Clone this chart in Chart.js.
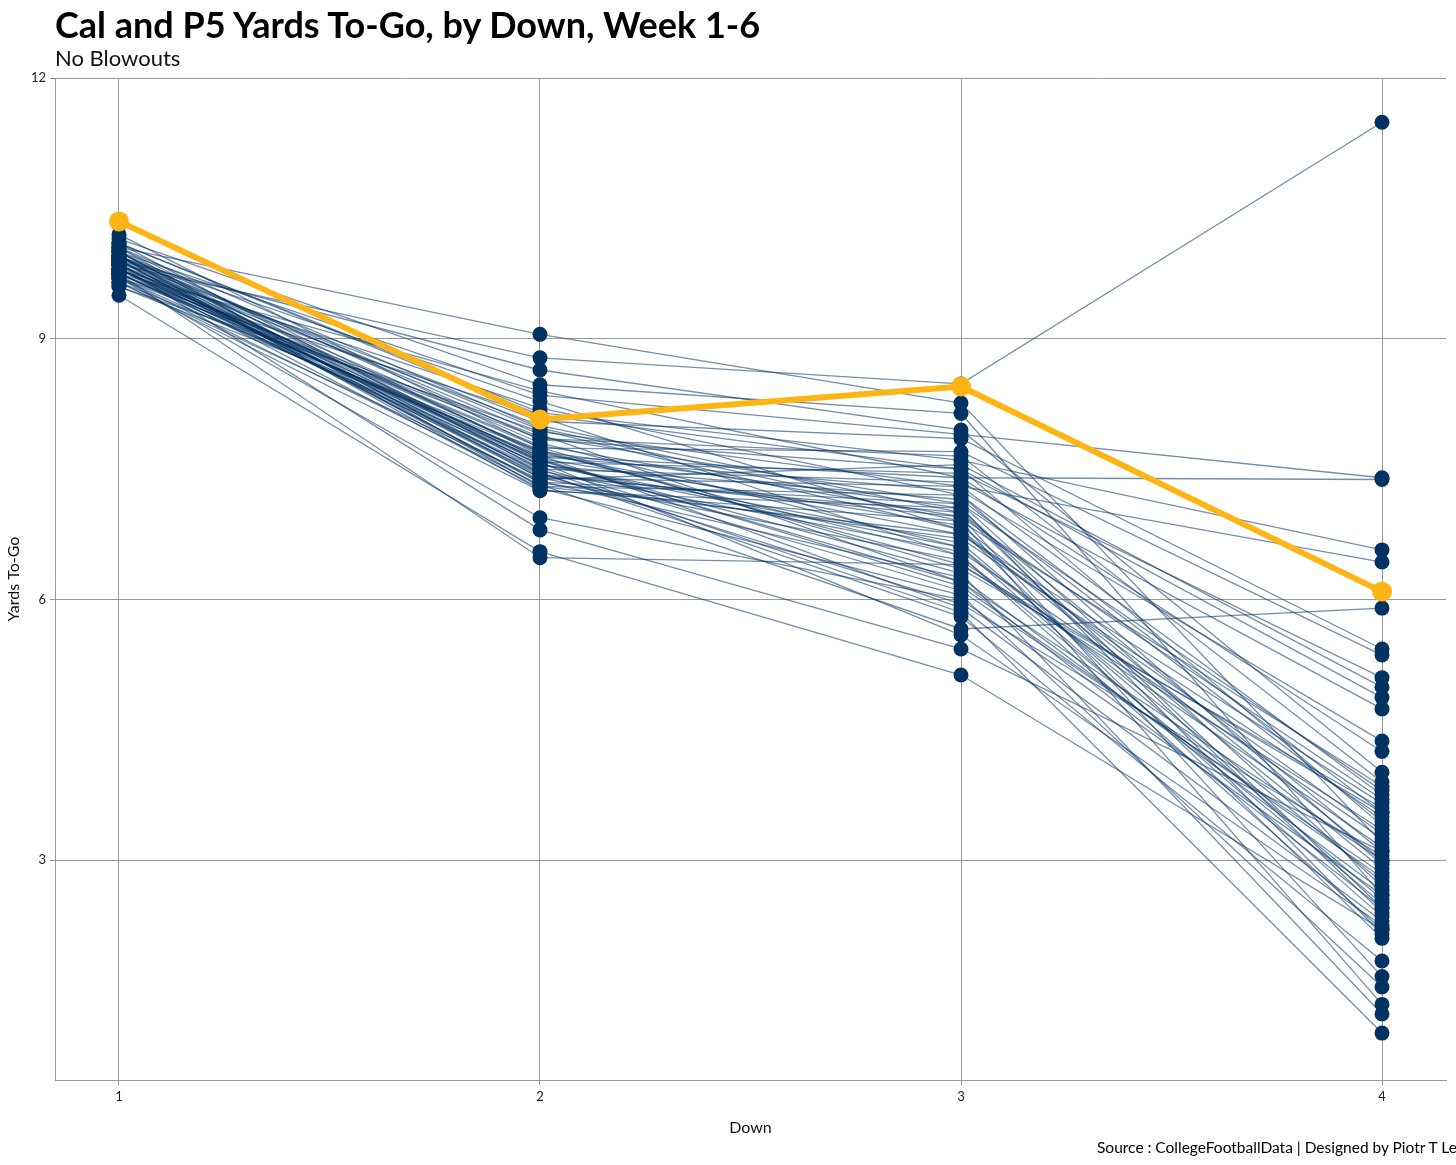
<!DOCTYPE html>
<html>
<head>
<meta charset="utf-8">
<script src="https://cdn.jsdelivr.net/npm/chart.js@4.4.0/dist/chart.umd.min.js"></script>
<style>
    html, body { margin: 0; padding: 0; background: #fff; overflow: hidden; }
    #wrap { position: relative; width: 1456px; height: 1165px; font-family: Lato, sans-serif; overflow: hidden; }
    #chart { position: absolute; left: 0; top: 0; }
    .title { position: absolute; left: 55px; top: 2px; font-size: 36px; font-weight: bold; color: #000; white-space: nowrap; }
    .subtitle { position: absolute; left: 55px; top: 44px; font-size: 22px; color: #111; white-space: nowrap; }
    .caption { position: absolute; left: 1097px; top: 1138px; font-size: 15.5px; color: #000; white-space: nowrap; }
</style>
</head>
<body>
<div id="wrap">
    <canvas id="chart" width="1456" height="1165"></canvas>
    <div class="title">Cal and P5 Yards To-Go, by Down, Week 1-6</div>
    <div class="subtitle">No Blowouts</div>
    <div class="caption">Source : CollegeFootballData | Designed by Piotr T Le</div>
</div>
<script>
// average yards to go on each down, one entry per P5 team
var downs = [1, 2, 3, 4];
var yTicks = [3, 6, 9, 12];

var down1Yards = [
    10.05, 9.85, 9.90, 10.15, 9.75, 10.00, 9.95, 9.80, 10.10, 9.70,
    9.90, 9.85, 10.05, 9.60, 9.95, 9.75, 10.00, 9.90, 9.80, 10.20,
    9.65, 9.85, 9.95, 10.05, 9.75, 9.90, 9.80, 10.00, 9.70, 9.95,
    9.85, 10.10, 9.75, 9.90, 9.80, 9.95, 10.00, 9.65, 9.85, 9.90,
    9.70, 10.05, 9.80, 9.95, 9.75, 9.85, 10.00, 9.90, 9.80, 9.70,
    9.95, 10.10, 9.85, 9.75, 9.90, 9.60, 9.80, 9.95, 9.70, 9.85,
    9.50, 9.75, 9.65, 9.80
];
var down2Yards = [
    9.05, 8.78, 8.64, 8.47, 8.40, 8.35, 8.28, 8.20, 8.15, 8.10,
    8.05, 8.00, 7.97, 7.93, 7.90, 7.87, 7.84, 7.80, 7.77, 7.74,
    7.72, 7.70, 7.68, 7.66, 7.64, 7.62, 7.60, 7.58, 7.56, 7.54,
    7.52, 7.50, 7.48, 7.46, 7.44, 7.42, 7.40, 7.38, 7.36, 7.34,
    7.32, 7.30, 7.28, 7.26, 7.65, 7.55, 7.45, 7.35, 7.75, 7.85,
    7.95, 8.12, 7.62, 7.50, 7.40, 7.70, 7.58, 7.30, 6.94, 6.80,
    6.55, 6.48, 7.25, 7.60
];
var down3Yards = [
    8.26, 8.48, 7.95, 8.14, 7.40, 7.90, 6.80, 7.20, 7.60, 6.50,
    7.85, 7.00, 6.90, 7.30, 6.20, 7.10, 7.50, 6.60, 6.95, 7.70,
    6.40, 7.05, 6.75, 5.90, 7.25, 6.85, 6.30, 7.45, 6.65, 7.15,
    6.10, 7.35, 6.55, 5.80, 6.95, 7.00, 6.45, 7.55, 6.25, 6.70,
    5.66, 7.20, 6.05, 6.90, 7.40, 6.60, 5.95, 7.10, 6.35, 7.65,
    6.80, 7.50, 6.15, 5.85, 7.30, 6.50, 5.59, 6.75, 6.00, 5.43,
    5.13, 6.40, 7.05, 6.20
];
var down4Yards = [
    3.20, 11.49, 4.01, 2.60, 7.38, 7.40, 2.90, 3.55, 6.57, 2.20,
    5.43, 3.10, 1.34, 6.43, 2.45, 3.80, 4.87, 2.75, 1.66, 5.36,
    3.35, 2.15, 3.65, 2.30, 4.37, 3.00, 1.23, 5.10, 2.55, 3.45,
    2.85, 4.74, 3.25, 1.84, 3.70, 2.40, 3.15, 4.99, 2.65, 3.50,
    5.90, 2.95, 1.54, 3.85, 4.25, 2.35, 3.05, 2.70, 3.60, 3.90,
    2.10, 3.40, 2.80, 1.01, 3.75, 2.50, 2.25, 3.30, 2.60, 3.10,
    2.20, 3.55, 2.45, 3.00
];
var calYards = [10.35, 8.07, 8.45, 6.09];

var navy = '#003262';
var gold = '#FDB515';
var gridGrey = '#9a9a9a';

var datasets = [];
var allPoints = [];
for (var i = 0; i < down1Yards.length; i++) {
    var row = [down1Yards[i], down2Yards[i], down3Yards[i], down4Yards[i]];
    var pts = [];
    downs.forEach(function(d, k) {
        pts.push({x: d, y: row[k]});
        allPoints.push({x: d, y: row[k]});
    });
    datasets.push({
        data: pts,
        borderColor: 'rgba(0,50,98,0.55)',
        borderWidth: 1.3,
        pointRadius: 0,
        fill: false,
        order: 3
    });
}
// all the team dots go above every team line
datasets.push({
    data: allPoints,
    showLine: false,
    pointRadius: 7.5,
    pointBackgroundColor: navy,
    pointBorderColor: navy,
    pointBorderWidth: 0,
    order: 2
});
datasets.push({
    data: downs.map(function(d, k) { return {x: d, y: calYards[k]}; }),
    borderColor: gold,
    borderWidth: 6,
    pointRadius: 10,
    pointBackgroundColor: gold,
    pointBorderColor: gold,
    pointBorderWidth: 0,
    order: 1
});

var tickFont = {family: 'Lato', size: 13};

new Chart(document.getElementById('chart').getContext('2d'), {
    type: 'line',
    data: {datasets: datasets},
    options: {
        responsive: false,
        animation: false,
        layout: {padding: {top: 78, right: 8, bottom: 24, left: 0}},
        plugins: {legend: {display: false}, tooltip: {enabled: false}},
        scales: {
            x: {
                type: 'linear',
                min: 0.848,
                max: 4.152,
                afterBuildTicks: function(scale) {
                    scale.ticks = downs.map(function(v) { return {value: v}; });
                },
                afterFit: function(scale) { scale.height = 61; },
                ticks: {color: '#222', font: tickFont, padding: 4},
                grid: {color: gridGrey, lineWidth: 1, tickLength: 5, tickColor: gridGrey},
                border: {display: true, color: gridGrey, width: 1},
                title: {display: true, text: 'Down', color: '#111', font: {family: 'Lato', size: 16}, padding: {top: 13}}
            },
            y: {
                min: 0.47,
                max: 12,
                afterBuildTicks: function(scale) {
                    scale.ticks = yTicks.map(function(v) { return {value: v}; });
                },
                afterFit: function(scale) { scale.width = 55; },
                ticks: {color: '#222', font: tickFont, padding: 4},
                grid: {color: gridGrey, lineWidth: 1, tickLength: 5, tickColor: gridGrey},
                border: {display: true, color: gridGrey, width: 1},
                title: {display: true, text: 'Yards To-Go', color: '#111', font: {family: 'Lato', size: 16}, padding: {bottom: 4}}
            }
        }
    }
});
</script>
</body>
</html>
